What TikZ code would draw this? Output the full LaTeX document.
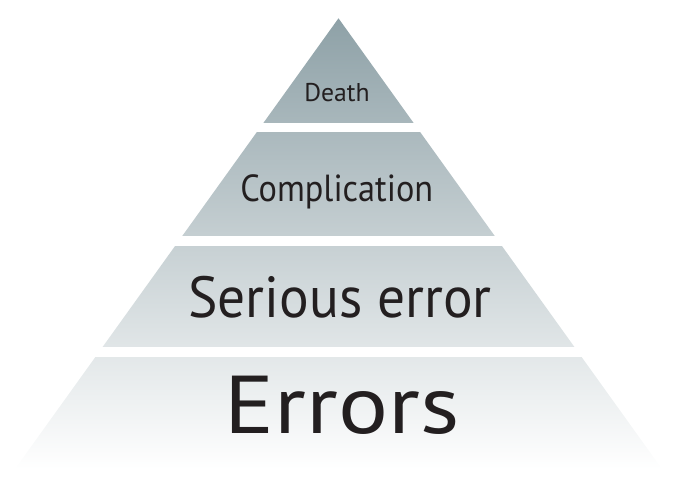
\documentclass[tikz,border=0pt]{standalone}
\usepackage{fontspec}
\setmainfont{PT Sans}
\usetikzlibrary{positioning}
\definecolor{pyrtop}{HTML}{8EA1A7}
\definecolor{labeltext}{HTML}{231F20}
\tikzset{level/.style={anchor=base, inner sep=0pt, text=labeltext}}

\begin{document}
\begin{tikzpicture}[x=1pt,y=-1pt]
    \useasboundingbox (0,0) rectangle (678,492);
    % pyramid with one shading, cut by white gaps
    \shade[top color=pyrtop, bottom color=white] (338.5,18.3) -- (662,469) -- (15,469) -- cycle;
    \foreach \ya/\yb in {123.3/132.3, 236/245.5, 347.3/356.7}
        \fill[white] (0,\ya) rectangle (678,\yb);

    \node[level, font=\fontsize{25.7}{26}\selectfont] (death) at (337,101.7) {Death};
    \node[level, font=\fontsize{37.7}{38}\selectfont] (compl) at (336.7,201) {\scalebox{0.91}[1]{Complication}};
    \node[level, font=\fontsize{58}{58}\selectfont] (serious) at (340,317.3) {\scalebox{0.955}[1]{Serious error}};
    \node[level, font=\fontsize{82}{82}\selectfont] (errors) at (342,433.3) {\scalebox{1.14}[1]{Errors}};
\end{tikzpicture}
\end{document}
